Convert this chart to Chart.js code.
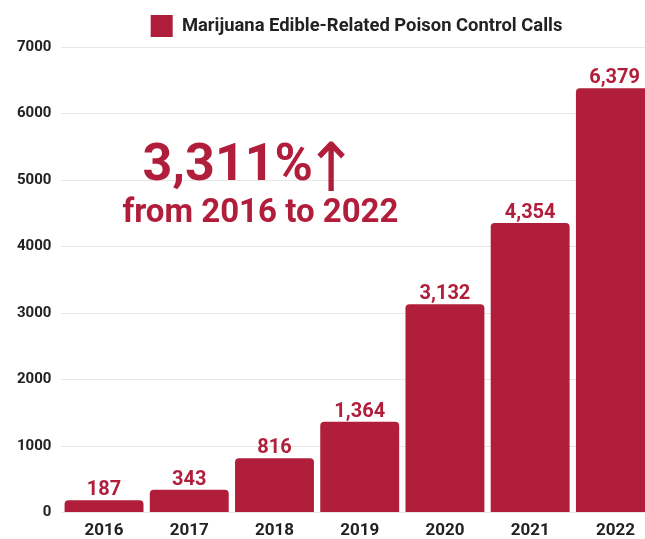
<!DOCTYPE html>
<html>
<head>
<meta charset="utf-8">
<script src="https://cdn.jsdelivr.net/npm/chart.js@4/dist/chart.umd.min.js"></script>
<style>
  html, body { margin: 0; padding: 0; background: #fff; overflow: hidden; }
  #wrap { width: 665px; height: 549px; position: relative; }
</style>
</head>
<body>
<div id="wrap"><canvas id="grafico"></canvas></div>
<script>
// dados
const anos = ['2016', '2017', '2018', '2019', '2020', '2021', '2022'];
const chamadas = [187, 343, 816, 1364, 3132, 4354, 6379];
const tituloSerie = 'Marijuana Edible-Related Poison Control Calls';
const destaque = ['3,311%', '↑', 'from 2016 to 2022'];

const VERMELHO = '#b11e3b';
const FONTE = 'Roboto, "Liberation Sans", sans-serif';

// rótulos de valor acima das barras + texto de destaque
const rotulosPlugin = {
  id: 'rotulos',
  afterLayout(chart) {
    // desloca a legenda para alinhar com a referência
    chart.legend.left += 24;
    chart.legend.right += 24;
  },
  afterDatasetsDraw(chart) {
    const { ctx, chartArea, scales } = chart;
    const meta = chart.getDatasetMeta(0);
    ctx.save();
    ctx.fillStyle = VERMELHO;
    ctx.font = `bold 20px ${FONTE}`;
    ctx.textAlign = 'center';
    ctx.textBaseline = 'alphabetic';
    meta.data.forEach((bar, i) => {
      let x = bar.x;
      const texto = chamadas[i].toLocaleString('en-US');
      const w = ctx.measureText(texto).width;
      if (x + w / 2 > 640) x = 640 - w / 2;
      ctx.fillText(texto, x, bar.y - 5);
    });

    const yBase = scales.y.getPixelForValue(5000);
    const x0 = chartArea.left + 81;
    ctx.textAlign = 'left';
    ctx.font = `bold 52px ${FONTE}`;
    ctx.fillText(destaque[0], x0, yBase);
    const larg = ctx.measureText(destaque[0]).width;
    const capH = ctx.measureText(destaque[0]).actualBoundingBoxAscent;

    // seta: ajustada para ~50px de altura
    ctx.font = `50px "DejaVu Sans"`;
    const m = ctx.measureText(destaque[1]);
    const hSeta = m.actualBoundingBoxAscent + m.actualBoundingBoxDescent;
    const esc = 50 / hSeta;
    const cy = yBase - capH / 2 + 5;
    ctx.save();
    ctx.translate(x0 + larg + 4, cy);
    ctx.scale(esc * 0.95, esc);
    ctx.fillText(destaque[1], m.actualBoundingBoxLeft, (m.actualBoundingBoxAscent - m.actualBoundingBoxDescent) / 2);
    ctx.restore();

    ctx.font = `bold 33px ${FONTE}`;
    ctx.fillText(destaque[2], chartArea.left + 61, yBase + 42);
    ctx.restore();
  }
};

new Chart(document.getElementById('grafico').getContext('2d'), {
  type: 'bar',
  data: {
    labels: anos,
    datasets: [{
      label: tituloSerie,
      data: chamadas,
      backgroundColor: VERMELHO,
      borderWidth: 0,
      borderRadius: 4,
      barPercentage: 0.926,
      categoryPercentage: 1
    }]
  },
  options: {
    responsive: true,
    maintainAspectRatio: false,
    animation: false,
    layout: { padding: { left: 7, right: 7, top: 3, bottom: 0 } },
    plugins: {
      legend: {
        display: true,
        position: 'top',
        labels: {
          boxWidth: 22,
          boxHeight: 22,
          padding: 12,
          color: '#222',
          font: { family: FONTE, size: 18.4, weight: 'bold' }
        }
      },
      tooltip: { enabled: false }
    },
    scales: {
      x: {
        grid: { display: false, drawTicks: false },
        border: { display: false },
        ticks: {
          color: '#222',
          padding: 8,
          font: { family: FONTE, size: 17, weight: 'bold' }
        }
      },
      y: {
        min: 0,
        max: 7000,
        grid: { color: '#e6e6e6', drawTicks: false },
        border: { display: false },
        ticks: {
          stepSize: 1000,
          padding: 10,
          color: '#222',
          callback: (v) => String(v),
          font: { family: FONTE, size: 15, weight: 'bold' }
        }
      }
    }
  },
  plugins: [rotulosPlugin]
});
</script>
</body>
</html>
